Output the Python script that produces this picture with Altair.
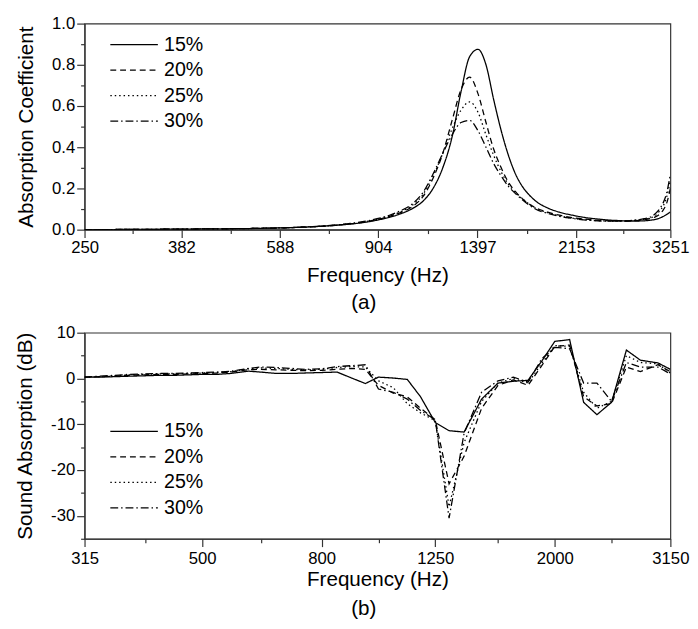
import altair as alt
import pandas as pd

FONT = "Liberation Sans"
series = ["15%", "20%", "25%", "30%"]
dash_range = [[1, 0], [6, 4], [1.5, 3], [8, 3, 1.5, 3]]

# ---------- panel (a): absorption coefficient ----------
freq_a = [250, 300, 350, 400, 450, 500, 550, 600, 650, 700, 750, 800, 850, 900, 950, 1000,
          1050, 1100, 1150, 1200, 1250, 1300, 1350, 1400, 1450, 1500, 1550, 1600, 1650, 1700, 1750,
          1800, 1900, 2000, 2100, 2200, 2300, 2400, 2500, 2600, 2700, 2800, 2900, 3000,
          3050, 3100, 3150, 3200, 3251]
a15 = [0.000, 0.001, 0.002, 0.003, 0.004, 0.005, 0.007, 0.009, 0.012, 0.016, 0.021, 0.027, 0.035, 0.046, 0.060, 0.078,
       0.102, 0.138, 0.20, 0.30, 0.45, 0.67, 0.84, 0.875, 0.80, 0.63, 0.48, 0.36, 0.27, 0.21, 0.17,
       0.14, 0.105, 0.085, 0.072, 0.062, 0.055, 0.050, 0.046, 0.044, 0.042, 0.042, 0.043, 0.047,
       0.050, 0.056, 0.064, 0.074, 0.086]
a20 = [0.000, 0.001, 0.002, 0.003, 0.004, 0.005, 0.007, 0.009, 0.012, 0.016, 0.021, 0.028, 0.037, 0.049, 0.064, 0.084,
       0.112, 0.16, 0.25, 0.37, 0.53, 0.68, 0.74, 0.66, 0.52, 0.39, 0.30, 0.23, 0.185, 0.15, 0.125,
       0.107, 0.085, 0.070, 0.060, 0.053, 0.048, 0.045, 0.043, 0.042, 0.042, 0.044, 0.048, 0.056,
       0.063, 0.075, 0.095, 0.13, 0.20]
a25 = [0.000, 0.001, 0.002, 0.003, 0.004, 0.005, 0.007, 0.009, 0.012, 0.016, 0.022, 0.029, 0.038, 0.050, 0.066, 0.088,
       0.118, 0.17, 0.26, 0.37, 0.49, 0.58, 0.62, 0.57, 0.46, 0.36, 0.28, 0.22, 0.18, 0.15, 0.125,
       0.105, 0.082, 0.067, 0.057, 0.050, 0.046, 0.043, 0.042, 0.042, 0.043, 0.046, 0.051, 0.060,
       0.070, 0.090, 0.115, 0.16, 0.24]
a30 = [0.000, 0.001, 0.002, 0.003, 0.004, 0.005, 0.007, 0.009, 0.013, 0.017, 0.023, 0.030, 0.040, 0.053, 0.070, 0.093,
       0.125, 0.18, 0.27, 0.37, 0.46, 0.52, 0.53, 0.48, 0.40, 0.32, 0.26, 0.21, 0.175, 0.145, 0.12,
       0.10, 0.079, 0.065, 0.056, 0.049, 0.045, 0.042, 0.041, 0.041, 0.043, 0.047, 0.053, 0.065,
       0.080, 0.100, 0.13, 0.18, 0.27]
ticks_a = [250, 382, 588, 904, 1397, 2153, 3251]
minor_x_a = [309, 474, 729, 1124, 1734, 2646]
yticks_a = [0.0, 0.2, 0.4, 0.6, 0.8, 1.0]
minor_y_a = [0.1, 0.3, 0.5, 0.7, 0.9]

# ---------- panel (b): sound absorption (dB) ----------
freq_b = [315, 335, 355, 375, 400, 425, 450, 475, 500, 530, 560, 600, 630, 670, 710, 750, 800,
          850, 900, 950, 1000, 1060, 1120, 1180, 1250, 1320, 1400, 1500, 1600, 1700, 1800, 1900,
          2000, 2120, 2240, 2360, 2500, 2650, 2800, 3000, 3150]
b15 = [0.3, 0.3, 0.4, 0.5, 0.6, 0.7, 0.7, 0.8, 0.9, 0.9, 1.1, 1.6, 1.4, 1.1, 1.1, 1.2, 1.3,
       1.4, 0.1, -1.1, 0.3, 0.1, -0.2, -4.0, -9.6, -11.4, -11.7, -4.5, -1.0, -0.6, -0.4, 3.8,
       8.1, 8.5, -5.2, -7.9, -5.2, 6.2, 4.0, 3.4, 2.0]
b20 = [0.3, 0.4, 0.5, 0.7, 0.8, 0.9, 0.9, 1.0, 1.1, 1.2, 1.4, 1.9, 2.0, 1.9, 1.8, 1.7, 1.8,
       2.0, 2.2, 2.0, -1.5, -3.2, -4.0, -6.5, -9.0, -23.0, -17.0, -6.5, -1.5, -0.3, -1.5, 2.8,
       7.0, 7.3, -4.0, -6.0, -5.5, 2.5, 1.5, 3.0, 1.5]
b25 = [0.3, 0.4, 0.6, 0.8, 0.9, 1.0, 1.0, 1.1, 1.2, 1.3, 1.5, 2.1, 2.3, 2.2, 2.0, 1.9, 2.0,
       2.4, 2.6, 2.5, -0.5, -2.0, -5.5, -7.5, -9.2, -28.0, -14.0, -5.0, -1.0, 0.0, -1.0, 3.3,
       7.2, 7.0, -3.0, -6.5, -5.0, 5.0, 3.5, 3.2, 1.2]
b30 = [0.3, 0.5, 0.7, 0.9, 1.0, 1.1, 1.1, 1.2, 1.3, 1.4, 1.6, 2.2, 2.5, 2.4, 2.2, 2.0, 2.1,
       2.6, 2.8, 3.0, -2.3, -3.0, -4.5, -7.0, -9.0, -30.5, -12.0, -3.0, -0.5, 0.3, -0.8, 4.3,
       6.8, 6.5, -1.0, -1.0, -5.0, 3.5, 2.5, 2.5, 1.0]
ticks_b = [315, 500, 800, 1250, 2000, 3150]
minor_x_b = [400, 630, 1000, 1600, 2500]
yticks_b = [-30, -20, -10, 0, 10]
minor_y_b = [-35, -25, -15, -5, 5]


def long_df(freqs, cols, name):
    rows = []
    for s, vals in zip(series, cols):
        for f, v in zip(freqs, vals):
            rows.append({"freq": f, name: v, "series": s})
    return pd.DataFrame(rows)


df_a = long_df(freq_a, [a15, a20, a25, a30], "val")
df_b = long_df(freq_b, [b15, b20, b25, b30], "val")


def legend(y):
    return alt.Legend(title=None, orient="none", legendX=40, legendY=y,
                      symbolType="M-2.55,0H2.55", symbolSize=361, symbolStrokeWidth=1.3,
                      symbolStrokeColor="black", symbolFillColor="transparent",
                      labelFontSize=20, labelFont=FONT, labelOffset=20, labelColor="black",
                      rowPadding=5, padding=0)


def panel(df, xdom, ydom, xt, xminor, yt, yminor, ytitle, yfmt_expr, interp, leg_y, tag,
          xlp, xtp, toff):
    xs = alt.Scale(type="log", domain=xdom, nice=False)
    ys = alt.Scale(domain=ydom, nice=False, zero=False)
    main = alt.Chart(df).mark_line(color="black", strokeWidth=1.3, interpolate=interp, clip=True).encode(
        x=alt.X("freq:Q", scale=xs,
                axis=alt.Axis(values=xt, orient="bottom", title="Frequency (Hz)", labelExpr="'' + datum.value",
                              labelPadding=xlp, titlePadding=xtp, labelFlush=False, labelOverlap=False)),
        y=alt.Y("val:Q", scale=ys,
                axis=alt.Axis(values=yt, orient="left", title=ytitle, labelExpr=yfmt_expr,
                              titlePadding=15, labelFlush=False, labelOverlap=False)),
        strokeDash=alt.StrokeDash("series:N", scale=alt.Scale(domain=series, range=dash_range),
                                  legend=legend(leg_y)),
        detail="series:N",
    )
    minor = alt.Chart(df).mark_point(opacity=0).encode(
        x=alt.X("freq:Q", scale=xs,
                axis=alt.Axis(values=xminor, orient="bottom", labels=False, tickSize=4,
                              domain=False, title=None)),
        y=alt.Y("val:Q", scale=ys,
                axis=alt.Axis(values=yminor, orient="left", labels=False, tickSize=4,
                              domain=False, title=None)),
    )
    return alt.layer(main, minor).resolve_axis(x="independent", y="independent").properties(
        width=597, height=210,
        title=alt.TitleParams(tag, orient="bottom", fontSize=21, font=FONT, fontWeight="normal",
                              dx=-14, offset=toff, color="black"))


chart_a = panel(df_a, [250, 3251], [0, 1], ticks_a, minor_x_a, yticks_a, minor_y_a,
                "Absorption Coefficient", "format(datum.value, '.1f')", "monotone", 11, "(a)",
                2, 10, 7)
chart_b = panel(df_b, [315, 3150], [-35, 10], ticks_b, minor_x_b, yticks_b, minor_y_b,
                "Sound Absorption (dB)", "'' + datum.value", "linear", 90, "(b)",
                4, 3, 9)

chart = alt.vconcat(chart_a, chart_b, spacing=9).resolve_scale(
    strokeDash="independent"
).resolve_legend(
    strokeDash="independent"
).properties(
    padding={"left": 6, "top": 0, "right": 0, "bottom": 0}
).configure_axis(
    labelFont=FONT, titleFont=FONT, labelFontSize=17, titleFontSize=21, titleFontWeight="normal",
    labelColor="black", titleColor="black", domainColor="#333", tickColor="#333",
    domainWidth=1.2, tickWidth=1.2, grid=False, tickSize=8, labelPadding=2
).configure_view(stroke="#333", strokeWidth=1.2)

chart.save("out.html", embed_options={"renderer": "svg", "actions": False})
